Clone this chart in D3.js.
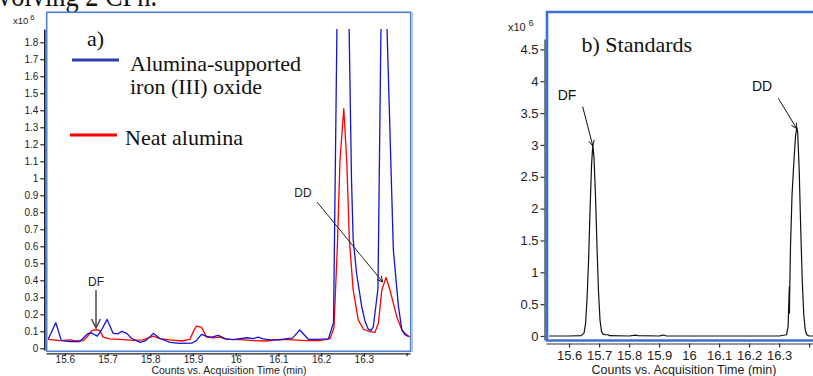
<!DOCTYPE html>
<html><head><meta charset="utf-8">
<script src="https://cdn.jsdelivr.net/npm/d3@7/dist/d3.min.js"></script>
<style>
html,body{margin:0;padding:0;background:#fff;overflow:hidden}
svg{display:block}
</style></head>
<body>
<script>
// ---------- DATA (values in units of 10^6 counts, time in min) ----------
const ironTime  = [15.561,15.579,15.592,15.612,15.635,15.655,15.663,15.676,15.686,15.699,15.713,15.725,15.733,15.745,15.756,15.776,15.79,15.807,15.822,15.846,15.869,15.897,15.908,15.92,15.932,15.944,15.959,15.975,15.994,16.026,16.041,16.053,16.064,16.08,16.104,16.119,16.133,16.15,16.17,16.189,16.217,16.229,16.244,16.256,16.271,16.275,16.283,16.295,16.303,16.31,16.317,16.322,16.333,16.347,16.352,16.354,16.369,16.381,16.389,16.396,16.404];
const ironValue = [0.053,0.15,0.045,0.039,0.04,0.088,0.09,0.072,0.108,0.17,0.088,0.085,0.1,0.088,0.059,0.035,0.045,0.088,0.059,0.035,0.029,0.03,0.045,0.082,0.07,0.066,0.076,0.057,0.051,0.062,0.057,0.066,0.055,0.049,0.049,0.057,0.06,0.108,0.053,0.053,0.055,0.15,3.4,3.4,1.0,0.64,0.44,0.245,0.157,0.113,0.105,0.124,0.35,3.4,3.4,1.9,0.58,0.245,0.108,0.08,0.07];

const neatTime  = [15.561,15.588,15.612,15.626,15.643,15.652,15.663,15.674,15.682,15.69,15.705,15.729,15.76,15.783,15.807,15.822,15.846,15.873,15.893,15.902,15.908,15.92,15.932,15.947,15.963,15.979,16.01,16.041,16.072,16.104,16.135,16.166,16.197,16.221,16.23,16.238,16.244,16.253,16.26,16.266,16.275,16.287,16.299,16.314,16.326,16.334,16.342,16.352,16.361,16.377,16.389,16.4,16.408];
const neatValue = [0.053,0.045,0.049,0.043,0.045,0.066,0.104,0.11,0.104,0.066,0.055,0.053,0.047,0.049,0.072,0.057,0.049,0.043,0.053,0.104,0.131,0.124,0.066,0.061,0.066,0.053,0.051,0.045,0.043,0.053,0.049,0.045,0.045,0.057,0.12,0.6,1.1,1.41,1.1,0.64,0.343,0.166,0.112,0.098,0.094,0.147,0.343,0.417,0.343,0.186,0.108,0.08,0.066];

const stdTime  = [15.533,15.6,15.64,15.65,15.655,15.66,15.665,15.67,15.675,15.679,15.683,15.688,15.693,15.698,15.703,15.708,15.713,15.72,15.73,15.735,15.8,15.815,15.82,15.83,15.9,15.91,15.915,15.925,16.3,16.325,16.33,16.334,16.3345,16.335,16.338,16.343,16.35,16.355,16.359,16.362,16.367,16.372,16.377,16.382,16.387,16.392,16.4,16.45];
const stdValue = [0,0,0.005,0.05,0.2,0.6,1.2,2.0,2.7,3.0,2.8,2.2,1.4,0.7,0.25,0.07,0.03,0.02,0.02,0.005,0,0.01,0.015,0.005,0,0.01,0.015,0,0,0.02,0.15,0.77,0.36,0.6,1.4,2.2,2.8,3.15,3.27,3.2,2.6,1.7,0.9,0.35,0.1,0.02,0,0];

const leftYTicks  = [0,0.1,0.2,0.3,0.4,0.5,0.6,0.7,0.8,0.9,1,1.1,1.2,1.3,1.4,1.5,1.6,1.7,1.8];
const leftXTicks  = [15.6,15.7,15.8,15.9,16,16.1,16.2,16.3,16.4];
const rightYTicks = [0,0.5,1,1.5,2,2.5,3,3.5,4,4.5];
const rightXTicks = [15.6,15.7,15.8,15.9,16,16.1,16.2,16.3,16.4];
const xTitle = "Counts vs. Acquisition Time (min)";
const seriesNames = ["Alumina-supported", "iron (III) oxide", "Neat alumina"];

// ---------- DRAW ----------
const W = 813, H = 376;
const svg = d3.select("body").append("svg").attr("width", W).attr("height", H);
const sans = "'Liberation Sans', Arial, sans-serif";
const serif = "'Liberation Serif', 'Times New Roman', serif";

// clipped caption from the page above the figure
svg.append("text").attr("x", -2).attr("y", 6).attr("font-family", serif)
  .attr("font-size", 32).attr("fill", "#111").attr("textLength", 159).attr("lengthAdjust", "spacingAndGlyphs")
  .text("volving 2 CPh.");

const fmt = d => (d === 0 ? "0" : d3.format("~g")(d));
const ticksLabel = last => d => (d === last ? "" : fmt(d));

// ===== LEFT PANEL =====
const lx = d3.scaleLinear().domain([15.556, 16.408]).range([46, 410]);
const ly = d3.scaleLinear().domain([-0.01, 1.878]).range([350, 29]);
const L = svg.append("g");

L.append("defs").append("clipPath").attr("id", "clipL")
  .append("rect").attr("x", 46).attr("y", 29).attr("width", 365).attr("height", 322);

// frame
L.append("rect").attr("x", 46.7).attr("y", 12.3).attr("width", 364).attr("height", 339)
  .attr("fill", "none").attr("stroke", "#4f82d2").attr("stroke-width", 1.6);
L.append("line").attr("x1", 412.3).attr("x2", 412.3).attr("y1", 12).attr("y2", 352)
  .attr("stroke", "#a9c2ea").attr("stroke-width", 1.2);

const lineL = (t, v) => d3.line().x((d, i) => lx(t[i])).y((d, i) => ly(v[i]))(v);
L.append("path").attr("d", lineL(neatTime, neatValue)).attr("clip-path", "url(#clipL)")
  .attr("fill", "none").attr("stroke", "#ff0000").attr("stroke-width", 1.3).attr("stroke-linejoin", "round");
L.append("path").attr("d", lineL(ironTime, ironValue)).attr("clip-path", "url(#clipL)")
  .attr("fill", "none").attr("stroke", "#1414d2").attr("stroke-width", 1.3).attr("stroke-linejoin", "round");

// axes
const lyAxis = L.append("g").attr("transform", "translate(44.3,0)")
  .call(d3.axisLeft(ly).tickValues(leftYTicks).tickFormat(fmt).tickSize(4).tickSizeOuter(0).tickPadding(2));
const lxAxis = L.append("g").attr("transform", "translate(0,353.3)")
  .call(d3.axisBottom(lx).tickValues(leftXTicks).tickFormat(ticksLabel(16.4)).tickSize(3).tickSizeOuter(0).tickPadding(-0.5));
[lyAxis, lxAxis].forEach(a => {
  a.selectAll("text").attr("font-family", sans).attr("font-size", 10).attr("fill", "#222");
  a.selectAll("line,path").attr("stroke", "#222").attr("stroke-width", 1.2);
});
lyAxis.select(".domain").attr("stroke-width", 1.6);

L.append("text").attr("x", 13).attr("y", 24).attr("font-family", sans).attr("font-size", 9.5).attr("fill", "#222")
  .text("x10").append("tspan").attr("dx", 2).attr("dy", -4).attr("font-size", 7.5).text("6");
L.append("text").attr("x", 229).attr("y", 373.5).attr("text-anchor", "middle")
  .attr("font-family", sans).attr("font-size", 10.5).attr("fill", "#222").text(xTitle);

// legend
L.append("text").attr("x", 87).attr("y", 46).attr("font-family", serif).attr("font-size", 22).attr("fill", "#111").text("a)");
L.append("line").attr("x1", 72).attr("x2", 119).attr("y1", 60).attr("y2", 60).attr("stroke", "#2b3fb0").attr("stroke-width", 3);
L.append("text").attr("x", 130).attr("y", 70.5).attr("font-family", serif).attr("font-size", 22).attr("fill", "#111").text(seriesNames[0]);
L.append("text").attr("x", 130).attr("y", 94).attr("font-family", serif).attr("font-size", 22).attr("fill", "#111").text(seriesNames[1]);
L.append("line").attr("x1", 70).attr("x2", 117).attr("y1", 135).attr("y2", 135).attr("stroke", "#ff0000").attr("stroke-width", 3);
L.append("text").attr("x", 125).attr("y", 145).attr("font-family", serif).attr("font-size", 22).attr("fill", "#111").text(seriesNames[2]);

// arrow markers
const defs = svg.append("defs");
function marker(id, color) {
  defs.append("marker").attr("id", id).attr("viewBox", "0 0 10 10").attr("refX", 9).attr("refY", 5)
    .attr("markerWidth", 7).attr("markerHeight", 7).attr("orient", "auto-start-reverse")
    .append("path").attr("d", "M1,1 L9,5 L1,9").attr("fill", "none").attr("stroke", color).attr("stroke-width", 1.3);
}
marker("arrG", "#444"); marker("arrK", "#111");

// annotations left
L.append("text").attr("x", 96).attr("y", 286).attr("text-anchor", "middle").attr("font-family", sans).attr("font-size", 12).attr("fill", "#222").text("DF");
L.append("line").attr("x1", 96).attr("x2", 96).attr("y1", 290).attr("y2", 328)
  .attr("stroke", "#555").attr("stroke-width", 1.6).attr("marker-end", "url(#arrG)");
L.append("text").attr("x", 303).attr("y", 197).attr("text-anchor", "middle").attr("font-family", sans).attr("font-size", 12).attr("fill", "#222").text("DD");
L.append("line").attr("x1", 317).attr("x2", lx(16.344)).attr("y1", 202).attr("y2", ly(0.39))
  .attr("stroke", "#222").attr("stroke-width", 1).attr("marker-end", "url(#arrK)");

// ===== RIGHT PANEL =====
const rx = d3.scaleLinear().domain([15.523, 16.45]).range([546, 546 + 0.927 * 300]);
const ry = d3.scaleLinear().domain([-0.0628, 4.663]).range([340, 39]);
const R = svg.append("g");
R.append("defs").append("clipPath").attr("id", "clipR")
  .append("rect").attr("x", 546).attr("y", 12).attr("width", 300).attr("height", 328);

R.append("path").attr("d", d3.line().x((d, i) => rx(stdTime[i])).y((d, i) => ry(stdValue[i]))(stdValue))
  .attr("clip-path", "url(#clipR)").attr("fill", "none").attr("stroke", "#111").attr("stroke-width", 1.2).attr("stroke-linejoin", "round");

// frame (right edge off-screen)
R.append("path").attr("d", "M830,12 L547,12 L547,340.5 L830,340.5")
  .attr("fill", "none").attr("stroke", "#3a72d4").attr("stroke-width", 2.6);

const ryAxis = R.append("g").attr("transform", "translate(544.5,0)")
  .call(d3.axisLeft(ry).tickValues(rightYTicks).tickFormat(fmt).tickSize(4).tickSizeOuter(0).tickPadding(2));
const rxAxis = R.append("g").attr("transform", "translate(0,343.5)")
  .call(d3.axisBottom(rx).tickValues(rightXTicks).tickFormat(ticksLabel(16.4)).tickSize(4).tickSizeOuter(0).tickPadding(3.5));
[ryAxis, rxAxis].forEach(a => {
  a.selectAll("text").attr("font-family", sans).attr("font-size", 13).attr("fill", "#222");
  a.selectAll("line,path").attr("stroke", "#333").attr("stroke-width", 1.2);
});

R.append("text").attr("x", 508).attr("y", 31).attr("font-family", sans).attr("font-size", 11).attr("fill", "#222")
  .text("x10").append("tspan").attr("dx", 3).attr("dy", -5).attr("font-size", 8.5).text("6");
R.append("text").attr("x", 684).attr("y", 374).attr("text-anchor", "middle")
  .attr("font-family", sans).attr("font-size", 12.5).attr("fill", "#222").text(xTitle);

R.append("text").attr("x", 581.5).attr("y", 52).attr("font-family", serif).attr("font-size", 22).attr("fill", "#111").text("b) Standards");

R.append("text").attr("x", 567).attr("y", 100).attr("text-anchor", "middle").attr("font-family", sans).attr("font-size", 14).attr("fill", "#111").text("DF");
R.append("line").attr("x1", 582.7).attr("y1", 106.7).attr("x2", rx(15.679)).attr("y2", ry(3.0) + 1)
  .attr("stroke", "#111").attr("stroke-width", 1).attr("marker-end", "url(#arrK)");
R.append("text").attr("x", 762).attr("y", 91).attr("text-anchor", "middle").attr("font-family", sans).attr("font-size", 14).attr("fill", "#111").text("DD");
R.append("line").attr("x1", 778.3).attr("y1", 98.3).attr("x2", rx(16.359)).attr("y2", ry(3.27) + 1)
  .attr("stroke", "#111").attr("stroke-width", 1).attr("marker-end", "url(#arrK)");
</script>
</body></html>
